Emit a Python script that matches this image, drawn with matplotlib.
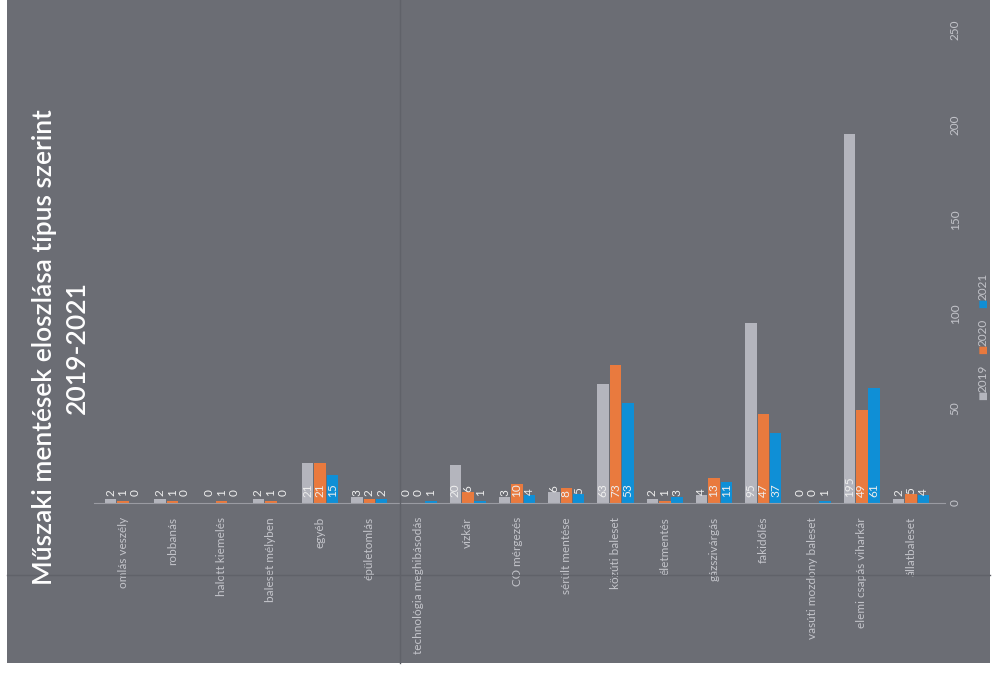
import matplotlib.pyplot as plt
import numpy as np
from matplotlib.patches import Rectangle
from matplotlib.lines import Line2D

categories = ['omlás veszély', 'robbanás', 'halott kiemelés', 'baleset mélyben', 'egyéb',
              'épületomlás', 'technológia meghibásodás', 'vízkár', 'CO mérgezés',
              'sérült mentése', 'közúti baleset', 'életmentés', 'gázszivárgás',
              'fakidőlés', 'vasúti mozdony baleset', 'elemi csapás viharkár', 'állatbaleset']
v2019 = [2, 2, 0, 2, 21, 3, 0, 20, 3, 6, 63, 2, 4, 95, 0, 195, 2]
v2020 = [1, 1, 1, 1, 21, 2, 0, 6, 10, 8, 73, 1, 13, 47, 0, 49, 5]
v2021 = [0, 0, 0, 0, 15, 2, 1, 1, 4, 5, 53, 3, 11, 37, 1, 61, 4]
years = ['2019', '2020', '2021']
value_ticks = [0, 50, 100, 150, 200, 250]

colors = ['#b4b5bd', '#e97a3e', '#0f8fd6']
bg = '#6b6d74'
txt = '#c3c4ca'

plt.rcParams['font.family'] = ['Lato', 'DejaVu Sans']

fig = plt.figure(figsize=(9.98, 6.8), dpi=100)
fig.patch.set_facecolor('white')
# scanned page area
fig.add_artist(Rectangle((7 / 998, 17 / 680), 983 / 998, 663 / 680,
                         transform=fig.transFigure, facecolor=bg, edgecolor='none', zorder=0))
# faint fold lines of the scan
fig.add_artist(Line2D([400 / 998, 400 / 998], [17 / 680, 1], transform=fig.transFigure,
                      color='#606269', lw=1.0, zorder=0.5))
fig.add_artist(Line2D([7 / 998, 990 / 998], [105 / 680, 105 / 680], transform=fig.transFigure,
                      color='#606269', lw=1.0, zorder=0.5))

# axes: category 0 at x=123 px, spacing ~49.25 px; value 0 at y=503 px, 250 at y=30 px
ax = fig.add_axes([93.5 / 998, 177 / 680, 852 / 998, 473 / 680])
ax.set_facecolor('none')

x = np.arange(len(categories))
w = 0.25
for i, (vals, c) in enumerate(zip([v2019, v2020, v2021], colors)):
    pos = x + (i - 1) * w
    ax.bar(pos, vals, w * 0.93, color=c, zorder=2)
    for p, v in zip(pos, vals):
        # label sits near the base, or just above a very short bar
        ly = max(3.5, v) if v < 7 else 3.0
        ax.text(p, ly, str(v), rotation=90, ha='center', va='bottom',
                fontsize=8.5, color='#eeeeee', zorder=3)

ax.set_xlim(-0.6, 16.7)
ax.set_ylim(0, 250)
ax.set_xticks(x)
ax.set_xticklabels(categories, rotation=90, ha='center', va='top', fontsize=8.5, color=txt)
ax.yaxis.tick_right()
ax.set_yticks(value_ticks)
ax.set_yticklabels([str(t) for t in value_ticks], rotation=90, va='center', fontsize=8.5, color=txt)
ax.tick_params(length=0, axis='x', pad=10)
ax.tick_params(length=0, axis='y', pad=3)
for s in ['top', 'left', 'right']:
    ax.spines[s].set_visible(False)
ax.spines['bottom'].set_color('#9a9ba2')
ax.spines['bottom'].set_linewidth(0.8)

# title, rotated like the scanned page
fig.text(45 / 998, 1 - 347 / 680, 'Műszaki mentések eloszlása típus szerint', rotation=90,
         ha='center', va='center', fontsize=19, color='white', fontweight='semibold')
fig.text(77 / 998, 1 - 347 / 680, '2019-2021', rotation=90,
         ha='center', va='center', fontsize=19, color='white', fontweight='semibold')

# legend, rotated
sq_y = [395, 349, 303]
for y, c, lab in zip(sq_y, colors, years):
    fig.text(983 / 998, 1 - y / 680, '■', rotation=90, ha='center', va='center',
             fontsize=7, color=c, family=['DejaVu Sans'])
    fig.text(983 / 998, 1 - (y - 17) / 680, lab, rotation=90, ha='center', va='center',
             fontsize=8.5, color=txt)

plt.savefig('out.png', dpi=100)
plt.close()
